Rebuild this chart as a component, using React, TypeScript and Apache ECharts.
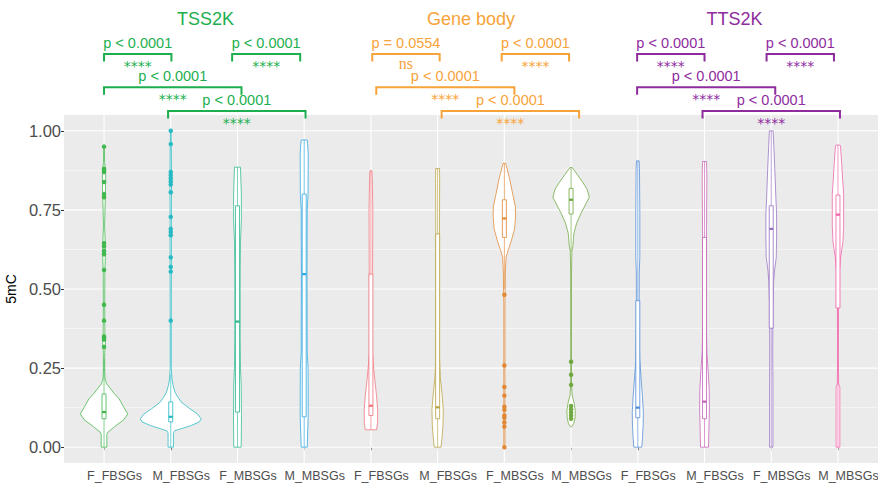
import React, { useEffect, useRef } from "react";
import * as echarts from "echarts";

// ---------- data ----------
const categories = [
  "F_FBSGs", "M_FBSGs", "F_MBSGs", "M_MBSGs",
  "F_FBSGs", "M_FBSGs", "F_MBSGs", "M_MBSGs",
  "F_FBSGs", "M_FBSGs", "F_MBSGs", "M_MBSGs",
];
const groupTitles = ["TSS2K", "Gene body", "TTS2K"];
const groupTitleX = [2.52, 6.5, 10.45];
const groupColors = ["#1DAF4F", "#F7A33A", "#8E2C9E"];
const violinColors = [
  "#3DB54A", "#22B8C2", "#2DB88F", "#2AA6E0",
  "#F0727A", "#B5A040", "#E08530", "#6BA53B",
  "#4F8BD6", "#C45FB5", "#9670C0", "#F060A8",
];
const xTicks = [1, 2, 3, 4, 5, 6, 7, 8, 9, 10, 11, 12];
const yTicks = [0, 0.25, 0.5, 0.75, 1];
const yMinor = [0.125, 0.375, 0.625, 0.875];

// violin outlines: [5mC value, half width (category units)]
const violin1 = [[0,0.042],[0.04,0.042],[0.048,0.06],[0.058,0.12],[0.068,0.175],[0.085,0.29],[0.105,0.355],[0.125,0.3],[0.153,0.225],[0.17,0.15],[0.184,0.1],[0.2,0.04],[0.216,0.015],[0.24,0.01],[0.3,0.01],[0.33,0.022],[0.36,0.012],[0.45,0.01],[0.56,0.012],[0.6,0.02],[0.65,0.018],[0.7,0.008],[0.78,0.018],[0.85,0.025],[0.88,0.02],[0.9,0.008],[0.95,0.005]];
const violin2 = [[0,0.04],[0.045,0.04],[0.052,0.06],[0.06,0.18],[0.068,0.3],[0.08,0.43],[0.09,0.455],[0.105,0.4],[0.121,0.29],[0.142,0.16],[0.16,0.1],[0.174,0.063],[0.195,0.035],[0.216,0.018],[0.25,0.008],[0.4,0.008],[0.6,0.01],[0.75,0.01],[0.85,0.012],[0.95,0.008],[1.0,0.004]];
const violin3 = [[0,0.055],[0.05,0.058],[0.1,0.06],[0.2,0.055],[0.25,0.045],[0.35,0.04],[0.55,0.04],[0.65,0.045],[0.72,0.058],[0.8,0.058],[0.85,0.05],[0.885,0.045]];
const violin4 = [[0,0.045],[0.1,0.06],[0.25,0.058],[0.3,0.045],[0.55,0.042],[0.75,0.045],[0.8,0.058],[0.93,0.06],[0.96,0.05],[0.971,0.045]];
const violin5 = [[0.055,0.085],[0.08,0.1],[0.12,0.1],[0.16,0.085],[0.2,0.065],[0.24,0.045],[0.28,0.03],[0.3,0.022],[0.5,0.02],[0.55,0.025],[0.75,0.028],[0.85,0.02],[0.874,0.015]];
const violin6 = [[0,0.05],[0.03,0.065],[0.07,0.08],[0.12,0.085],[0.17,0.065],[0.22,0.04],[0.28,0.028],[0.5,0.025],[0.7,0.028],[0.85,0.03],[0.881,0.028]];
const violin7 = [[0,0.008],[0.45,0.008],[0.5,0.012],[0.55,0.015],[0.6,0.025],[0.625,0.06],[0.648,0.098],[0.69,0.153],[0.73,0.168],[0.76,0.165],[0.795,0.13],[0.847,0.08],[0.88,0.04],[0.897,0.02]];
const violin8 = [[0.065,0.01],[0.075,0.04],[0.095,0.06],[0.116,0.062],[0.14,0.045],[0.165,0.015],[0.2,0.006],[0.55,0.006],[0.62,0.012],[0.637,0.028],[0.66,0.035],[0.679,0.045],[0.711,0.088],[0.742,0.155],[0.79,0.273],[0.815,0.24],[0.837,0.176],[0.863,0.088],[0.877,0.04],[0.884,0.015]];
const violin9 = [[0,0.06],[0.03,0.07],[0.07,0.08],[0.11,0.083],[0.16,0.07],[0.2,0.055],[0.24,0.042],[0.28,0.028],[0.4,0.02],[0.55,0.022],[0.6,0.03],[0.75,0.03],[0.88,0.025],[0.905,0.02]];
const violin10 = [[0,0.06],[0.05,0.065],[0.12,0.073],[0.18,0.07],[0.24,0.055],[0.3,0.035],[0.4,0.025],[0.6,0.025],[0.7,0.03],[0.85,0.035],[0.903,0.03]];
const violin11 = [[0,0.025],[0.2,0.025],[0.3,0.022],[0.45,0.025],[0.52,0.035],[0.56,0.05],[0.6,0.075],[0.66,0.08],[0.74,0.08],[0.784,0.07],[0.88,0.053],[0.953,0.038],[0.99,0.03],[1.0,0.028]];
const violin12 = [[0,0.028],[0.19,0.028],[0.2,0.01],[0.28,0.006],[0.45,0.008],[0.55,0.02],[0.6,0.04],[0.65,0.075],[0.7,0.085],[0.8,0.085],[0.847,0.07],[0.9,0.055],[0.953,0.037],[0.955,0.03]];
const violins = [violin1, violin2, violin3, violin4, violin5, violin6, violin7, violin8, violin9, violin10, violin11, violin12];

// box stats: [lower whisker, q1, median, q3, upper whisker]
const boxStats = [
  [0.0, 0.09, 0.111, 0.168, 0.28],
  [0.0, 0.08, 0.096, 0.143, 0.23],
  [0.0, 0.111, 0.397, 0.763, 0.885],
  [0.0, 0.096, 0.547, 0.8, 0.971],
  [0.055, 0.1, 0.131, 0.547, 0.874],
  [0.0, 0.09, 0.126, 0.674, 0.881],
  [0.5, 0.663, 0.723, 0.782, 0.897],
  [0.62, 0.737, 0.782, 0.818, 0.884],
  [0.0, 0.093, 0.125, 0.463, 0.905],
  [0.0, 0.09, 0.144, 0.663, 0.903],
  [0.0, 0.376, 0.69, 0.763, 1.0],
  [0.0, 0.44, 0.735, 0.797, 0.955],
];

// outliers
const outliers1 = [0.95, 0.88, 0.875, 0.87, 0.838, 0.8, 0.79, 0.645, 0.635, 0.62, 0.61, 0.56, 0.45, 0.4, 0.35, 0.345, 0.34, 0.317];
const outliers2 = [1.0, 0.958, 0.87, 0.86, 0.85, 0.84, 0.83, 0.806, 0.728, 0.69, 0.68, 0.67, 0.6, 0.57, 0.555, 0.4];
const outliers7 = [0.482, 0.258, 0.19, 0.163, 0.128, 0.118, 0.1, 0.093, 0.078, 0.065, 0.0];
const outliers8 = [0.27, 0.229, 0.197, 0.13, 0.12, 0.11, 0.1, 0.09];
const outlierSets: [number, number[]][] = [[1, outliers1], [2, outliers2], [7, outliers7], [8, outliers8]];

// significance brackets
const bracketX1 = [1, 2.92, 1, 1.96, 5.02, 6.96, 5.08, 6.06, 8.99, 10.93, 8.99, 9.97];
const bracketX2 = [2.01, 3.94, 3.06, 4.02, 6.03, 7.97, 7.15, 8.12, 10.0, 11.94, 11.06, 12.03];
const bracketY = [1.2425, 1.2425, 1.138, 1.0625, 1.2425, 1.2425, 1.138, 1.0625, 1.2425, 1.2425, 1.138, 1.0625];
const pLabels = ["p < 0.0001", "p < 0.0001", "p < 0.0001", "p < 0.0001", "p = 0.0554", "p < 0.0001", "p < 0.0001", "p < 0.0001", "p < 0.0001", "p < 0.0001", "p < 0.0001", "p < 0.0001"];
const sigLabels = ["****", "****", "****", "****", "ns", "****", "****", "****", "****", "****", "****", "****"];
const bracketGroup = [0, 0, 0, 0, 1, 1, 1, 1, 2, 2, 2, 2];

const FONT = "'Liberation Sans', Arial, Helvetica, sans-serif";

export default function App() {
  const ref = useRef<HTMLDivElement>(null);
  useEffect(() => {
    document.body.style.margin = "0";
    const chart = echarts.init(ref.current!, null, { renderer: "svg" });

    const gridSeries = {
      type: "custom",
      z: 1,
      silent: true,
      data: [[1, 0]],
      renderItem: (params: any, api: any) => {
        const children: any[] = [];
        yMinor.forEach((v) => {
          const a = api.coord([0.4, v]);
          const b = api.coord([12.6, v]);
          children.push({ type: "line", shape: { x1: a[0], y1: a[1], x2: b[0], y2: b[1] }, style: { stroke: "#FFFFFF", lineWidth: 0.55 } });
        });
        yTicks.forEach((v) => {
          const a = api.coord([0.4, v]);
          const b = api.coord([12.6, v]);
          children.push({ type: "line", shape: { x1: a[0], y1: a[1], x2: b[0], y2: b[1] }, style: { stroke: "#FFFFFF", lineWidth: 1.1 } });
        });
        xTicks.forEach((v) => {
          const a = api.coord([v, -0.05]);
          const b = api.coord([v, 1.05]);
          children.push({ type: "line", shape: { x1: a[0], y1: a[1], x2: b[0], y2: b[1] }, style: { stroke: "#FFFFFF", lineWidth: 1.1 } });
        });
        return { type: "group", children };
      },
    };

    const violinSeries = {
      type: "custom",
      z: 3,
      silent: true,
      data: xTicks.map((x) => [x, 0]),
      renderItem: (params: any, api: any) => {
        const i = params.dataIndex;
        const x = api.value(0);
        const prof = violins[i];
        const col = violinColors[i];
        const pts: number[][] = [];
        prof.forEach(([y, w]) => pts.push(api.coord([x - w, y])));
        for (let k = prof.length - 1; k >= 0; k--) pts.push(api.coord([x + prof[k][1], prof[k][0]]));
        const [lo, q1, med, q3, hi] = boxStats[i];
        const bw = 0.03;
        const pLoQ = api.coord([x, lo]);
        const pQ1 = api.coord([x, q1]);
        const pQ3 = api.coord([x, q3]);
        const pHi = api.coord([x, hi]);
        const bl = api.coord([x - bw, q3]);
        const br = api.coord([x + bw, q1]);
        const ml = api.coord([x - bw, med]);
        const mr = api.coord([x + bw, med]);
        return {
          type: "group",
          children: [
            { type: "polygon", shape: { points: pts }, style: { fill: "#FFFFFF", stroke: col, lineWidth: 1, strokeOpacity: 0.75 } },
            { type: "line", shape: { x1: pLoQ[0], y1: pLoQ[1], x2: pQ1[0], y2: pQ1[1] }, style: { stroke: col, lineWidth: 0.8, opacity: 0.8 } },
            { type: "line", shape: { x1: pQ3[0], y1: pQ3[1], x2: pHi[0], y2: pHi[1] }, style: { stroke: col, lineWidth: 0.8, opacity: 0.8 } },
            { type: "rect", shape: { x: bl[0], y: bl[1], width: br[0] - bl[0], height: br[1] - bl[1] }, style: { fill: "#FFFFFF", stroke: col, lineWidth: 1, strokeOpacity: 0.8 } },
            { type: "line", shape: { x1: ml[0], y1: ml[1], x2: mr[0], y2: mr[1] }, style: { stroke: col, lineWidth: 2.2 } },
          ],
        };
      },
    };

    const outlierSeries = outlierSets.map(([x, vals]) => ({
      type: "scatter",
      z: 4,
      silent: true,
      symbol: "circle",
      symbolSize: 4.5,
      itemStyle: { color: violinColors[x - 1], opacity: 0.95 },
      data: vals.map((v) => [x, v]),
    }));

    const bracketSeries = {
      type: "custom",
      z: 5,
      silent: true,
      clip: false,
      data: bracketX1.map((x1, i) => [x1, bracketY[i], bracketX2[i]]),
      renderItem: (params: any, api: any) => {
        const i = params.dataIndex;
        const col = groupColors[bracketGroup[i]];
        const a = api.coord([api.value(0), api.value(1)]);
        const b = api.coord([api.value(2), api.value(1)]);
        const leg = 7.5;
        const cx = (a[0] + b[0]) / 2;
        const sig = sigLabels[i];
        const isNs = sig === "ns";
        return {
          type: "group",
          children: [
            { type: "polyline", shape: { points: [[a[0], a[1] + leg], [a[0], a[1]], [b[0], b[1]], [b[0], b[1] + leg]] }, style: { stroke: col, lineWidth: 2, fill: "none" } },
            { type: "text", x: cx, y: a[1] - 11.5, style: { text: pLabels[i], fill: col, fontSize: 14.5, lineHeight: 11, fontFamily: FONT, align: "center", verticalAlign: "middle" } },
            isNs
              ? { type: "text", x: cx, y: a[1] + 9, style: { text: sig, fill: col, fontSize: 16, lineHeight: 8, fontFamily: "'Liberation Serif', 'Times New Roman', serif", align: "center", verticalAlign: "middle" } }
              : { type: "text", x: cx, y: a[1] + 12, style: { text: sig, fill: col, fontSize: 14, lineHeight: 6, fontFamily: "'DejaVu Sans', sans-serif", align: "center", verticalAlign: "middle" } },
          ],
        };
      },
    };

    const titleSeries = {
      type: "custom",
      z: 5,
      silent: true,
      clip: false,
      data: groupTitleX.map((x) => [x, 1.353]),
      renderItem: (params: any, api: any) => {
        const p = api.coord([api.value(0), api.value(1)]);
        return {
          type: "text",
          x: p[0],
          y: p[1],
          style: { text: groupTitles[params.dataIndex], fill: groupColors[params.dataIndex], fontSize: 18, fontFamily: FONT, align: "center", verticalAlign: "middle" },
        };
      },
    };

    chart.setOption({
      animation: false,
      grid: { left: 64, right: 0, top: 115, bottom: 23, show: true, backgroundColor: "#EBEBEB", borderWidth: 0, containLabel: false, outerBoundsMode: "none" },
      xAxis: {
        type: "value",
        min: 0.4,
        max: 12.6,
        axisLine: { show: false },
        splitLine: { show: false },
        axisTick: { show: true, customValues: xTicks, length: 3, lineStyle: { color: "#333333" } },
        axisLabel: {
          customValues: xTicks,
          formatter: (v: number) => categories[Math.round(v) - 1],
          color: "#4D4D4D",
          fontSize: 12.5,
          fontFamily: FONT,
          margin: 6,
          padding: [0, 0, 0, 21],
        },
      },
      yAxis: {
        type: "value",
        min: -0.05,
        max: 1.05,
        axisLine: { show: false },
        splitLine: { show: false },
        axisTick: { show: true, customValues: yTicks, length: 3, lineStyle: { color: "#333333" } },
        axisLabel: {
          customValues: yTicks,
          formatter: (v: number) => v.toFixed(2),
          color: "#4D4D4D",
          fontSize: 16.5,
          fontFamily: FONT,
          margin: 3,
        },
        name: "5mC",
        nameLocation: "middle",
        nameGap: 41,
        nameTextStyle: { color: "#000000", fontSize: 14, fontFamily: FONT },
      },
      series: [gridSeries, violinSeries, ...outlierSeries, bracketSeries, titleSeries],
    });
    return () => chart.dispose();
  }, []);
  return <div ref={ref} style={{ width: 878, height: 486 }} />;
}
